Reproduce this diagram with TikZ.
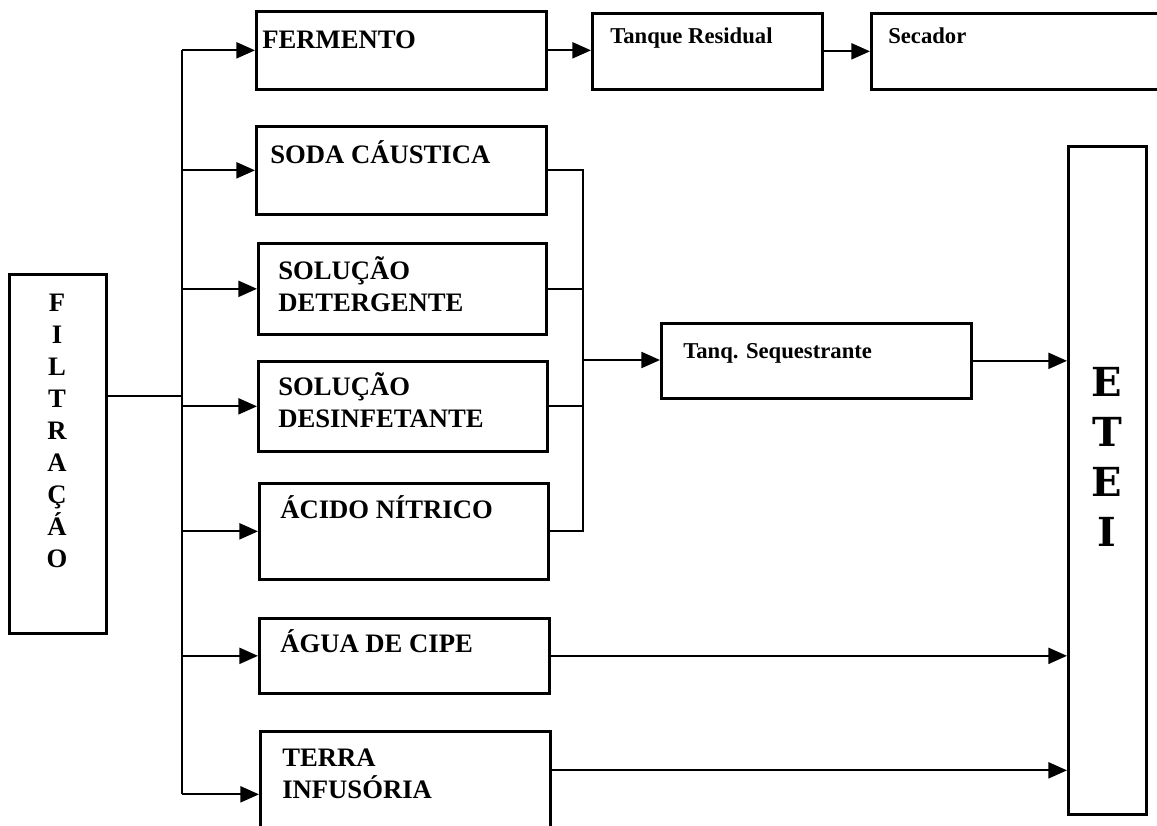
\documentclass[tikz,border=0pt]{standalone}
\usepackage{fontspec}
\setmainfont{Liberation Serif}
\newfontfamily\heavyserif{DejaVu Serif}
\usetikzlibrary{arrows.meta}

\tikzset{
  blk/.style 2 args={draw, line width=2pt, fill=white, anchor=north west, inner sep=0pt,
    minimum width=#1*0.75pt, minimum height=#2*0.75pt},
  txt/.style={font=\bfseries\fontsize{20}{24}\selectfont, inner sep=0pt, anchor=base west, align=left},
  txts/.style={txt, font=\bfseries\fontsize{17}{20}\selectfont},
  wire/.style={line width=1.7pt},
  arr/.style={wire, -{Triangle[length=14pt,width=12pt]}}
}

\begin{document}
\begin{tikzpicture}[x=0.75pt,y=0.75pt,yscale=-1,xscale=1]
  \useasboundingbox (0,0) rectangle (1157,825);

  % Filtracao
  \node[blk={97}{359}] (filt) at (8,273) {};
  \node[inner sep=0pt, align=center, font=\bfseries\fontsize{20}{24}\selectfont] (filtT) at (57,431) {F\\I\\L\\T\\R\\A\\Ç\\Á\\O};

  % first column
  \node[blk={290}{78}] (ferm) at (255,10) {};
  \node[txt] (fermT) at (262,48) {FERMENTO};
  \node[blk={290}{88}] (soda) at (255,125) {};
  \node[txt] (sodaT) at (270,163) {SODA CÁUSTICA};
  \node[blk={288}{91}] (dete) at (257,242) {};
  \node[txt] (deteT) at (278,311) {SOLUÇÃO\\DETERGENTE};
  \node[blk={289}{90}] (desi) at (257,360) {};
  \node[txt] (desiT) at (278,427) {SOLUÇÃO\\DESINFETANTE};
  \node[blk={289}{96}] (acid) at (258,482) {};
  \node[txt] (acidT) at (280,518) {ÁCIDO NÍTRICO};
  \node[blk={290}{75}] (agua) at (258,617) {};
  \node[txt] (aguaT) at (280,652) {ÁGUA DE CIPE};
  \node[blk={290}{126}] (terr) at (259,730) {};
  \node[txt] (terrT) at (282,798) {TERRA\\INFUSÓRIA};

  % top row
  \node[blk={230}{76}] (tanq) at (591,12) {};
  \node[txts] (tanqT) at (610,43) {Tanque Residual};
  \node[blk={295}{76}] (seca) at (870,12) {};
  \node[txts] (secaT) at (888,43) {Secador};

  % sequestrante and ETEI
  \node[blk={310}{75}] (sequ) at (660,322) {};
  \node[txts] (sequT) at (683,358) {Tanq. Sequestrante};
  \node[blk={78}{668}, line width=2.4pt] (etei) at (1067,145) {};
  \node[inner sep=0pt, align=center, font=\heavyserif\bfseries\fontsize{30}{37.5}\selectfont] (eteiT) at (1107,457) {E\\T\\E\\I};

  % distribution bus
  \coordinate (bus) at (182,396);
  \draw[wire] (filt.east |- bus) -- (bus);
  \draw[wire] (bus |- ferm.west) -- (bus |- terr.west);
  \foreach \b in {ferm,soda,dete,desi,acid,agua,terr}
    \draw[arr] (bus |- \b.west) -- (\b.west);

  % top line
  \draw[arr] (ferm.east) -- (ferm.east -| tanq.west);
  \draw[arr] (tanq.east) -- (tanq.east -| seca.west);

  % collector
  \coordinate (col) at (583,360);
  \foreach \b in {soda,dete,desi,acid}
    \draw[wire] (\b.east) -| (col);
  \draw[arr] (col) -- (col -| sequ.west);

  % to ETEI
  \draw[arr] (sequ.east) -- (sequ.east -| etei.west);
  \draw[arr] (agua.east) -- (agua.east -| etei.west);
  \draw[arr] ([yshift=-18pt]terr.east) -- ([yshift=-18pt]terr.east -| etei.west);
\end{tikzpicture}
\end{document}
